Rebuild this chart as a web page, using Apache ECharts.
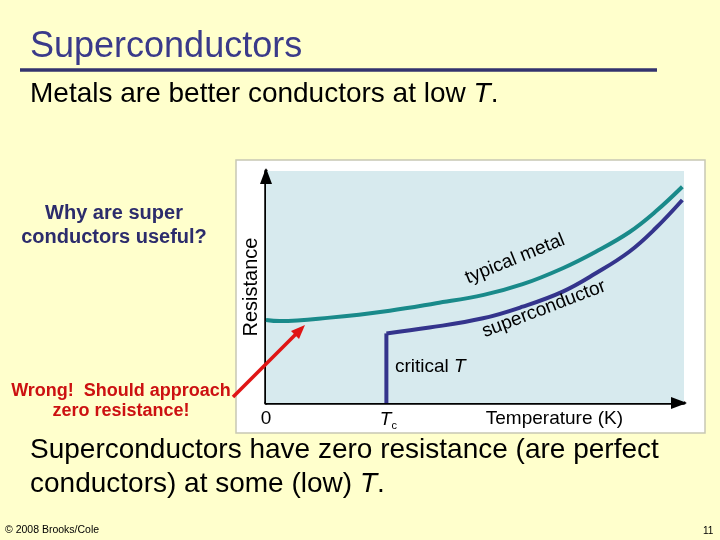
<!DOCTYPE html>
<html>
<head>
<meta charset="utf-8">
<script src="https://cdn.jsdelivr.net/npm/echarts@6/dist/echarts.min.js"></script>
<style>
  html, body { margin: 0; padding: 0; background: #ffffcc; }
  #main { width: 720px; height: 540px; }
</style>
</head>
<body>
<div id="main"></div>
<script>
// typical metal curve (temperature, resistance)
var metalTemp = [0, 3.3, 15.3, 29.6, 40.7, 52.1, 61.4, 71.0, 78.9, 86.9, 93.2, 99.6];
var metalRes = [35.8, 35.3, 36.8, 39.8, 43.0, 46.6, 51.2, 58.1, 65.2, 73.6, 82.5, 93.2];

// superconductor: vertical drop at Tc, then curve
var tc = 28.8;
var scDropRes = [0, 30.0];
var scTemp = [28.8, 39.1, 51.9, 61.4, 71.0, 78.9, 86.9, 93.2, 99.6];
var scRes = [30.0, 32.5, 36.5, 41.5, 48.0, 55.9, 65.2, 75.3, 87.5];

// x axis tick labels
var xTickValues = [0, tc, 69];
var xTickLabels = ['0', '{t|T}{s|c}', 'Temperature (K)'];

var FONT = '"Liberation Sans", Arial, sans-serif';

function pairs(xs, ys) {
    var out = [];
    for (var i = 0; i < xs.length; i++) out.push([xs[i], ys[i]]);
    return out;
}

var chart = echarts.init(document.getElementById('main'));

var option = {
    backgroundColor: '#ffffcc',
    animation: false,
    textStyle: { fontFamily: FONT },
    grid: {
        left: 266, top: 171, right: 36, bottom: 137,
        show: true,
        backgroundColor: '#d7eaee',
        borderWidth: 0,
        z: 1
    },
    xAxis: {
        type: 'value',
        min: 0,
        max: 100,
        splitLine: { show: false },
        axisTick: { show: false },
        axisLine: {
            onZero: false,
            lineStyle: { color: '#000', width: 3.5 }
        },
        axisLabel: {
            customValues: xTickValues,
            margin: 6,
            color: '#000',
            fontSize: 19,
            fontFamily: FONT,
            formatter: function (v) {
                var i = xTickLabels[xTickValues.indexOf(v)];
                return i || '';
            },
            rich: {
                t: { fontSize: 19, fontStyle: 'italic', fontFamily: FONT, color: '#000', padding: [0, 0, 0, 4] },
                s: { fontSize: 11, fontFamily: FONT, color: '#000', padding: [11, 0, 0, 0] }
            }
        }
    },
    yAxis: {
        type: 'value',
        min: 0,
        max: 100,
        name: 'Resistance',
        nameLocation: 'middle',
        nameRotate: 90,
        nameGap: 5,
        nameTextStyle: { color: '#000', fontSize: 20, fontFamily: FONT },
        splitLine: { show: false },
        axisTick: { show: false },
        axisLabel: { show: false },
        axisLine: {
            onZero: false,
            lineStyle: { color: '#000', width: 3.5 }
        }
    },
    series: [
        {
            name: 'typical metal',
            type: 'line',
            smooth: 0.4,
            showSymbol: false,
            data: pairs(metalTemp, metalRes),
            lineStyle: { color: '#198a8a', width: 4 },
            z: 3
        },
        {
            name: 'superconductor drop',
            type: 'line',
            showSymbol: false,
            data: pairs([tc, tc], scDropRes),
            lineStyle: { color: '#34348c', width: 4 },
            z: 3
        },
        {
            name: 'superconductor',
            type: 'line',
            smooth: 0.4,
            showSymbol: false,
            data: pairs(scTemp, scRes),
            lineStyle: { color: '#34348c', width: 4 },
            z: 3
        }
    ],
    graphic: [
        // white frame behind the plot
        { type: 'rect', z: -1, shape: { x: 236, y: 160, width: 469, height: 273 },
          style: { fill: '#ffffff', stroke: '#c8c8b4', lineWidth: 1.5 } },
        // axis arrowheads
        { type: 'polygon', z: 10, shape: { points: [[266, 168], [260, 184], [272, 184]] },
          style: { fill: '#000' } },
        { type: 'polygon', z: 10, shape: { points: [[687, 403], [671, 397], [671, 409]] },
          style: { fill: '#000' } },
        // slide title and rule
        { type: 'text', z: 10, left: 30, top: 29,
          style: { text: 'Superconductors', fill: '#3a3a8a', font: '36px ' + FONT } },
        { type: 'line', z: 10, shape: { x1: 20, y1: 70, x2: 657, y2: 70 },
          style: { stroke: '#33336e', lineWidth: 3.5 } },
        { type: 'text', z: 10, left: 30, top: 80,
          style: { text: '{n|Metals are better conductors at low }{i|T}{n|.}',
                   rich: { n: { font: '28px ' + FONT, fill: '#000' },
                           i: { font: 'italic 28px ' + FONT, fill: '#000' } } } },
        // side notes
        { type: 'text', z: 10, x: 114, y: 225,
          style: { text: 'Why are super\nconductors useful?', align: 'center', verticalAlign: 'middle',
                   fill: '#2c2c6c', font: 'bold 20px ' + FONT, lineHeight: 24 } },
        { type: 'text', z: 10, x: 121, y: 401,
          style: { text: 'Wrong!  Should approach\nzero resistance!', align: 'center', verticalAlign: 'middle',
                   fill: '#cc1111', font: 'bold 18px ' + FONT, lineHeight: 20 } },
        // red arrow
        { type: 'line', z: 10, shape: { x1: 233, y1: 397, x2: 298, y2: 332 },
          style: { stroke: '#e01515', lineWidth: 3.5 } },
        { type: 'polygon', z: 10, shape: { points: [[305, 325], [299, 339], [291, 331]] },
          style: { fill: '#e01515' } },
        // curve labels
        { type: 'text', z: 10, x: 515, y: 259, rotation: 22 * Math.PI / 180,
          style: { text: 'typical metal', align: 'center', verticalAlign: 'middle',
                   fill: '#000', font: '19px ' + FONT } },
        { type: 'text', z: 10, x: 544, y: 309, rotation: 21 * Math.PI / 180,
          style: { text: 'superconductor', align: 'center', verticalAlign: 'middle',
                   fill: '#000', font: '19px ' + FONT } },
        { type: 'text', z: 10, left: 395, top: 357,
          style: { text: '{n|critical }{i|T}',
                   rich: { n: { font: '19px ' + FONT, fill: '#000' },
                           i: { font: 'italic 19px ' + FONT, fill: '#000' } } } },
        // bottom statement
        { type: 'text', z: 10, left: 30, top: 436,
          style: { text: '{n|Superconductors have zero resistance (are perfect}\n{n|conductors) at some (low) }{i|T}{n|.}',
                   rich: { n: { font: '28px ' + FONT, fill: '#000', lineHeight: 34 },
                           i: { font: 'italic 28px ' + FONT, fill: '#000', lineHeight: 34 } } } },
        // footer
        { type: 'text', z: 10, left: 5, top: 525,
          style: { text: '\u00a9 2008 Brooks/Cole', fill: '#000', font: '10.5px ' + FONT } },
        { type: 'text', z: 10, left: 703, top: 526,
          style: { text: '11', fill: '#000', font: '10px ' + FONT } }
    ]
};

chart.setOption(option);
</script>
</body>
</html>
